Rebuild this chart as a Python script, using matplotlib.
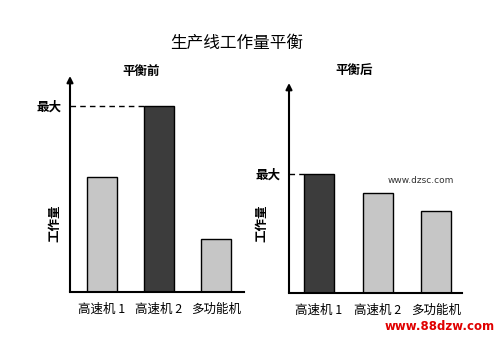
import matplotlib
matplotlib.use("Agg")
import matplotlib.pyplot as plt

plt.rcParams['font.family'] = ['Noto Sans CJK SC', 'DejaVu Sans']

# data (workload, same arbitrary scale in both panels)
machines = ['高速机 1', '高速机 2', '多功能机']
before = [62, 100, 28.5]
after = [64, 54, 44]
before_colors = ['#c6c6c6', '#3c3c3c', '#c6c6c6']
after_colors = ['#3c3c3c', '#c6c6c6', '#c6c6c6']

fig = plt.figure(figsize=(5, 3.39), dpi=100)
fig.patch.set_facecolor('white')


def draw_panel(ax, values, colors, xlim, ytop, width):
    x = range(len(values))
    ax.bar(x, values, width=width, color=colors, edgecolor='black', linewidth=1.0, zorder=2)
    ax.set_xlim(*xlim)
    ax.set_ylim(0, ytop)
    for s in ['top', 'right', 'left']:
        ax.spines[s].set_visible(False)
    ax.spines['bottom'].set_linewidth(1.5)
    # y axis arrow
    ax.annotate('', xy=(0, 1), xycoords='axes fraction', xytext=(0, 0),
                textcoords='axes fraction',
                arrowprops=dict(arrowstyle='-|>', color='black', lw=1.5,
                                mutation_scale=9, shrinkA=0, shrinkB=0))
    ax.set_xticks(list(x))
    ax.set_xticklabels(machines, fontsize=9)
    ax.tick_params(axis='x', length=0, pad=8)
    # max marker
    imax = values.index(max(values))
    vmax = values[imax]
    ax.set_yticks([vmax])
    ax.set_yticklabels(['最大'], fontsize=9, fontweight='bold')
    ax.tick_params(axis='y', length=0, pad=6)
    ax.plot([xlim[0], imax - width / 2], [vmax, vmax], color='black',
            linestyle=(0, (4, 3)), linewidth=1.0, zorder=1, clip_on=False)


ax1 = fig.add_axes([70 / 500, 47 / 339, 174 / 500, 216 / 339])
draw_panel(ax1, before, before_colors, (-0.56, 2.49), 116, 0.53)

ax2 = fig.add_axes([289 / 500, 46 / 339, 173 / 500, 210 / 339])
draw_panel(ax2, after, after_colors, (-0.51, 2.44), 113, 0.51)

# panel titles
fig.text(141 / 500, 1 - 71 / 339, '平衡前', fontsize=9, fontweight='bold',
         ha='center', va='center')
fig.text(354 / 500, 1 - 71 / 339, '平衡后', fontsize=9, fontweight='bold',
         ha='center', va='center')

fig.text(55 / 500, 1 - 223 / 339, '工作量', rotation=90, fontsize=9,
         fontweight='bold', ha='center', va='center')
fig.text(262 / 500, 1 - 223 / 339, '工作量', rotation=90, fontsize=9,
         fontweight='bold', ha='center', va='center')

fig.text(237 / 500, 1 - 43 / 339, '生产线工作量平衡', fontsize=12,
         ha='center', va='center')

# watermarks
fig.text(421 / 500, 1 - 180 / 339, 'www.dzsc.com', fontsize=6.5,
         color='#333333', ha='center', va='center', family='DejaVu Sans')
fig.text(440 / 500, 1 - 327 / 339, 'www.88dzw.com', fontsize=8.5,
         color='#e00000', fontweight='bold', ha='center', va='center',
         family='DejaVu Sans')

fig.savefig('out.png', dpi=100)
